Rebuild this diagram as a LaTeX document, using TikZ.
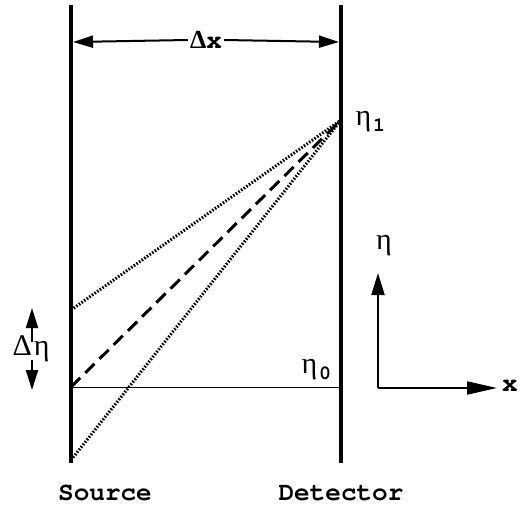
\documentclass[tikz,border=0pt]{standalone}
\usepackage{fontspec}
\setmonofont{TeX Gyre Cursor}
\newfontfamily\grk{Liberation Serif}
\usetikzlibrary{arrows.meta}
\begin{document}
\begin{tikzpicture}[x=1pt,y=-1pt,
  wall/.style={line width=4pt},
  ray/.style={line width=3pt},
  arr/.style={line width=2pt,-{Triangle[length=20pt,width=12pt]}},
  mono/.style={font=\fontsize{26}{26}\ttfamily\bfseries},
  greek/.style={font=\fontsize{30}{30}\grk}]
\useasboundingbox (0,0) rectangle (526,512);
% walls
\coordinate (s1) at (71,5);
\coordinate (s2) at (71,463);
\coordinate (d1) at (341,5);
\coordinate (d2) at (341,463);
\draw[wall] (s1) -- (s2);
\draw[wall] (d1) -- (d2);
% points
\coordinate (e1) at (341,120);
\coordinate (a) at (71,310);
\coordinate (b) at (71,387);
\coordinate (c) at (71,460);
\coordinate (e0) at (341,387);
\draw[line width=1pt] (b) -- (e0);
\draw[ray,dash pattern=on 1.6pt off 1.6pt] (a) -- (e1);
\draw[ray,dash pattern=on 1.6pt off 1.6pt] (c) -- (e1);
\draw[ray,dash pattern=on 13pt off 7pt] (b) -- (e1);
% delta x
\coordinate (xl) at (73,42);
\coordinate (xr) at (339,42);
\node[mono,fill=white,inner sep=2pt] (dx) at (206,40) {{\grk\fontsize{26}{26}\selectfont Δ}x};
\draw[arr] (dx.west) -- (xl);
\draw[arr] (dx.east) -- (xr);
% labels
\node[greek,anchor=west] (l1) at (352,122) {η\kern2pt\raisebox{-6pt}{\ttfamily\bfseries\fontsize{20}{20}\selectfont 1}};
\node[greek,anchor=west] (l0) at (298,370) {η\kern2pt\raisebox{-6pt}{\ttfamily\bfseries\fontsize{20}{20}\selectfont 0}};
% delta eta
\node[greek] (deta) at (31,349) {Δ\kern2pt η};
\coordinate (up) at (32,308);
\coordinate (dn) at (32,390);
\draw[line width=2pt,-{Triangle[length=20pt,width=12pt]}] (32,342) -- (up);
\draw[line width=2pt,-{Triangle[length=20pt,width=12pt]}] (32,360) -- (dn);
% axes
\coordinate (o) at (378,388);
\coordinate (ytip) at (378,273);
\coordinate (xtip) at (497,388);
\draw[line width=2pt,-{Triangle[length=22pt,width=13pt]}] (o) -- (ytip);
\draw[line width=2pt,-{Triangle[length=30pt,width=13pt]}] (o) -- (xtip);
\node[greek] (eta) at (384,246) {η};
\node[mono] (xl2) at (510,386) {x};
% bottom labels
\node[mono] (src) at (105,493) {Source};
\node[mono] (det) at (341,493) {Detector};
\end{tikzpicture}
\end{document}
